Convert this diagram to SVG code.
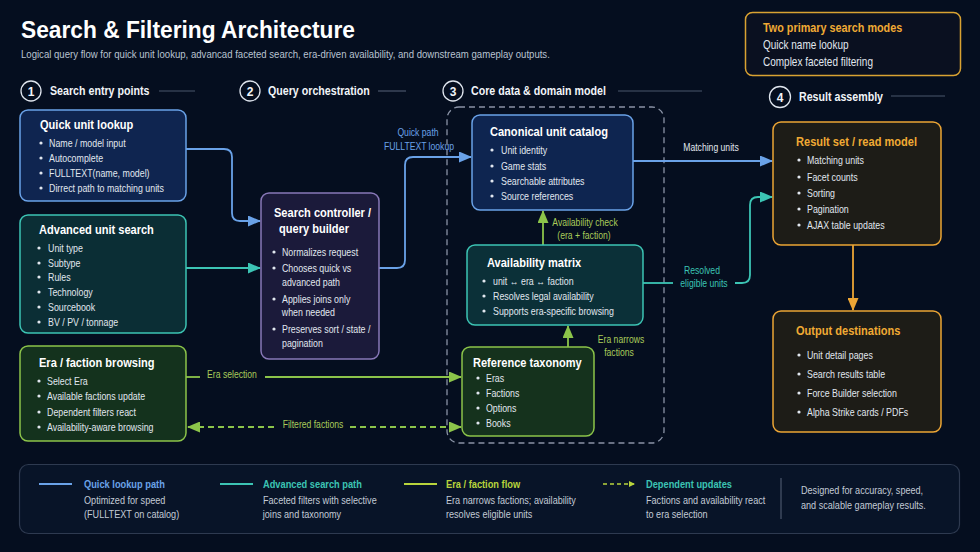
<svg xmlns="http://www.w3.org/2000/svg" width="980" height="552" viewBox="0 0 980 552">
<defs>
<style>
text{font-family:"Liberation Sans Narrow","Liberation Sans",Arial,sans-serif;transform:scaleX(.82);transform-box:fill-box;transform-origin:0 0}
.ttl{font-family:"Liberation Sans",Arial,sans-serif;font-size:24px;font-weight:bold;fill:#ffffff;transform:none}
.sub{font-size:11.7px;fill:#b9c3d1}
.sec{font-size:13px;font-weight:bold;fill:#f1f4f8}
.num{font-family:"Liberation Sans",Arial,sans-serif;font-size:12px;font-weight:bold;fill:#f1f4f8;text-anchor:middle;transform:none}
.ring{fill:none;stroke:#dfe5ee;stroke-width:1.3}
.hl{stroke:#4a566c;stroke-width:1.2}
.h{font-size:13.5px;font-weight:bold;fill:#ffffff}
.ho{font-size:13.5px;font-weight:bold;fill:#f0aa34}
.b{font-size:10.8px;fill:#e1e7ef}
.m{font-size:12.2px;fill:#e1e7ef}
.dot{fill:#e1e7ef}
.lbl{font-size:10.5px;text-anchor:middle;transform-origin:50% 0}
.node{stroke-width:1.5}
.c{fill:none;stroke-width:1.8}
.blue{stroke:#6aa2e8}
.teal{stroke:#3cc4b4}
.green{stroke:#8cc44a}
.orange{stroke:#eca535}
.lt{font-size:11.3px;font-weight:bold}
.ls{font-size:11.1px;fill:#c3cbd6}
</style>
<marker id="aBlue" markerUnits="userSpaceOnUse" markerWidth="13" markerHeight="11" refX="12" refY="5.5" orient="auto-start-reverse"><path d="M0,0 L13,5.5 L0,11 z" fill="#6aa2e8"/></marker>
<marker id="aTeal" markerUnits="userSpaceOnUse" markerWidth="13" markerHeight="11" refX="12" refY="5.5" orient="auto-start-reverse"><path d="M0,0 L13,5.5 L0,11 z" fill="#3cc4b4"/></marker>
<marker id="aGreen" markerUnits="userSpaceOnUse" markerWidth="13" markerHeight="11" refX="12" refY="5.5" orient="auto-start-reverse"><path d="M0,0 L13,5.5 L0,11 z" fill="#8cc44a"/></marker>
<marker id="aOrange" markerUnits="userSpaceOnUse" markerWidth="13" markerHeight="11" refX="12" refY="5.5" orient="auto-start-reverse"><path d="M0,0 L13,5.5 L0,11 z" fill="#eca535"/></marker>
<marker id="aSmall" markerUnits="userSpaceOnUse" markerWidth="6" markerHeight="6" refX="5" refY="3" orient="auto"><path d="M0,0 L6,3 L0,6 z" fill="#b8d43c"/></marker>
</defs>

<rect x="0" y="0" width="980" height="552" fill="#050e1f"/>

<g id="header">
<text class="ttl" x="21" y="38" textLength="334" lengthAdjust="spacingAndGlyphs">Search &amp; Filtering Architecture</text>
<text class="sub" x="21" y="58">Logical query flow for quick unit lookup, advancad faceted search, era-driven availability, and downstream gameplay outputs.</text>
</g>

<g id="modes">
<rect x="745.5" y="12.5" width="215" height="63" rx="7" fill="#0a1020" stroke="#d9a232" stroke-width="1.5"/>
<text x="763" y="32" style="font-size:13.2px;font-weight:bold;fill:#f0aa34">Two primary search modes</text>
<text class="m" x="763" y="49">Quick name lookup</text>
<text class="m" x="763" y="66">Complex faceted filtering</text>
</g>

<g id="sections">
<circle class="ring" cx="31" cy="91" r="10"/><text class="num" x="31" y="95.5">1</text>
<text class="sec" x="50" y="95.5">Search entry points</text>
<line class="hl" x1="159" y1="91" x2="195" y2="91"/>
<circle class="ring" cx="250" cy="91" r="10"/><text class="num" x="250" y="95.5">2</text>
<text class="sec" x="268" y="95.5">Query orchestration</text>
<line class="hl" x1="378" y1="91" x2="406" y2="91"/>
<circle class="ring" cx="453" cy="91" r="10"/><text class="num" x="453" y="95.5">3</text>
<text class="sec" x="471" y="95.5">Core data &amp; domain model</text>
<line class="hl" x1="618" y1="91" x2="702" y2="91"/>
<circle class="ring" cx="780" cy="97" r="10.5"/><text class="num" x="780" y="101.5">4</text>
<text class="sec" x="799" y="101.5">Result assembly</text>
<line class="hl" x1="891" y1="96" x2="945" y2="96"/>
</g>

<rect x="447" y="107" width="217" height="336" rx="12" fill="none" stroke="#8a93a6" stroke-width="1.3" stroke-dasharray="6 4"/>

<g id="connectors">
<path class="c blue" d="M186,149 H224 Q232,149 232,157 V213 Q232,221 240,221 H260" marker-end="url(#aBlue)"/>
<path class="c teal" d="M186,268 H260" marker-end="url(#aTeal)"/>
<path class="c blue" d="M379,268 H397 Q405,268 405,260 V165 Q405,157 413,157 H471" marker-end="url(#aBlue)"/>
<text class="lbl" x="418" y="136" fill="#6aa2e8">Quick path</text>
<text class="lbl" x="419" y="150" fill="#6aa2e8">FULLTEXT lookup</text>
<path class="c blue" d="M633,161 H772" marker-end="url(#aBlue)"/>
<text class="lbl" x="711" y="151" fill="#e1e7ef">Matching units</text>
<path class="c green" d="M543,245 V211" marker-end="url(#aGreen)"/>
<text class="lbl" x="585" y="226" fill="#a9cc5a">Availability check</text>
<text class="lbl" x="584" y="239" fill="#a9cc5a">(era + faction)</text>
<path class="c teal" d="M643,283 H673"/>
<path class="c teal" d="M735,283 H742 Q750,283 750,275 V205 Q750,197 758,197 H772" marker-end="url(#aTeal)"/>
<text class="lbl" x="702" y="274" fill="#3cc4b4">Resolved</text>
<text class="lbl" x="704" y="287" fill="#3cc4b4">eligible units</text>
<path class="c green" d="M568,347 V326" marker-end="url(#aGreen)"/>
<text class="lbl" x="621" y="343" fill="#a9cc5a">Era narrows</text>
<text class="lbl" x="619" y="356" fill="#a9cc5a">factions</text>
<path class="c green" d="M186,377 H200"/>
<path class="c green" d="M265,377 H461" marker-end="url(#aGreen)"/>
<text class="lbl" x="232" y="378" fill="#a9cc5a">Era selection</text>
<path class="c green" d="M188,427 H276" stroke-dasharray="6 4" marker-start="url(#aGreen)"/>
<path class="c green" d="M350,427 H461" stroke-dasharray="6 4" marker-end="url(#aGreen)"/>
<text class="lbl" x="313" y="428" fill="#a9cc5a">Filtered factions</text>
<path class="c orange" d="M853,245 V310" marker-end="url(#aOrange)"/>
</g>

<g id="quick">
<rect class="node" x="20" y="110" width="166" height="91" rx="8" fill="#0f2550" stroke="#6aa2e8"/>
<text class="h" x="40" y="129">Quick unit lookup</text>
<circle class="dot" cx="41" cy="143" r="1.6"/><text class="b" x="49" y="147">Name / model input</text>
<circle class="dot" cx="41" cy="158" r="1.6"/><text class="b" x="49" y="162">Autocomplete</text>
<circle class="dot" cx="41" cy="173" r="1.6"/><text class="b" x="49" y="177">FULLTEXT(name, model)</text>
<circle class="dot" cx="41" cy="188" r="1.6"/><text class="b" x="49" y="192">Dirrect path to matching units</text>
</g>

<g id="advanced">
<rect class="node" x="20" y="215" width="166" height="118" rx="8" fill="#0b2e35" stroke="#3cc4b4"/>
<text class="h" x="39" y="234">Advanced unit search</text>
<circle class="dot" cx="39" cy="248" r="1.6"/><text class="b" x="48" y="252">Unit type</text>
<circle class="dot" cx="39" cy="263" r="1.6"/><text class="b" x="48" y="267">Subtype</text>
<circle class="dot" cx="39" cy="277" r="1.6"/><text class="b" x="48" y="281">Rules</text>
<circle class="dot" cx="39" cy="292" r="1.6"/><text class="b" x="48" y="296">Technology</text>
<circle class="dot" cx="39" cy="307" r="1.6"/><text class="b" x="48" y="311">Sourcebook</text>
<circle class="dot" cx="39" cy="322" r="1.6"/><text class="b" x="48" y="326">BV / PV / tonnage</text>
</g>

<g id="era">
<rect class="node" x="20" y="346" width="166" height="95" rx="8" fill="#14321d" stroke="#8cc44a"/>
<text class="h" x="39" y="367">Era / faction browsing</text>
<circle class="dot" cx="39" cy="381" r="1.6"/><text class="b" x="47" y="385">Select Era</text>
<circle class="dot" cx="39" cy="396" r="1.6"/><text class="b" x="47" y="400">Available factions update</text>
<circle class="dot" cx="39" cy="412" r="1.6"/><text class="b" x="47" y="416">Dependent filters react</text>
<circle class="dot" cx="39" cy="427" r="1.6"/><text class="b" x="47" y="431">Availability-aware browsing</text>
</g>

<g id="controller">
<rect class="node" x="261" y="193" width="118" height="166" rx="8" fill="#1b1a3a" stroke="#8878b8"/>
<text class="h" x="274" y="217">Search controller /</text>
<text class="h" x="279" y="233">query builder</text>
<circle class="dot" cx="274" cy="252" r="1.6"/><text class="b" x="282" y="256">Normalizes request</text>
<circle class="dot" cx="274" cy="268" r="1.6"/><text class="b" x="282" y="272">Chooses quick vs</text>
<text class="b" x="282" y="286">advanced path</text>
<circle class="dot" cx="274" cy="299" r="1.6"/><text class="b" x="282" y="303">Applies joins only</text>
<text class="b" x="282" y="316">when needed</text>
<circle class="dot" cx="274" cy="329" r="1.6"/><text class="b" x="282" y="333">Preserves sort / state /</text>
<text class="b" x="282" y="347">pagination</text>
</g>

<g id="catalog">
<rect class="node" x="472" y="115" width="161" height="95" rx="8" fill="#0e2550" stroke="#6aa2e8"/>
<text class="h" x="490" y="136">Canonical unit catalog</text>
<circle class="dot" cx="492" cy="150" r="1.6"/><text class="b" x="501" y="154">Unit identity</text>
<circle class="dot" cx="492" cy="166" r="1.6"/><text class="b" x="501" y="170">Game stats</text>
<circle class="dot" cx="492" cy="181" r="1.6"/><text class="b" x="501" y="185">Searchable attributes</text>
<circle class="dot" cx="492" cy="196" r="1.6"/><text class="b" x="501" y="200">Source references</text>
</g>

<g id="availability">
<rect class="node" x="467" y="245" width="176" height="80" rx="8" fill="#0b3038" stroke="#3cc4b4"/>
<text class="h" x="487" y="267">Availability matrix</text>
<circle class="dot" cx="484" cy="281" r="1.6"/><text class="b" x="493" y="285">unit ↔ era ↔ faction</text>
<circle class="dot" cx="484" cy="296" r="1.6"/><text class="b" x="493" y="300">Resolves legal availability</text>
<circle class="dot" cx="484" cy="311" r="1.6"/><text class="b" x="493" y="315">Supports era-specific browsing</text>
</g>

<g id="taxonomy">
<rect class="node" x="462" y="347" width="132" height="89" rx="8" fill="#15321d" stroke="#8cc44a"/>
<text class="h" x="473" y="367">Reference taxonomy</text>
<circle class="dot" cx="478" cy="378" r="1.6"/><text class="b" x="486" y="382">Eras</text>
<circle class="dot" cx="478" cy="393" r="1.6"/><text class="b" x="486" y="397">Factions</text>
<circle class="dot" cx="478" cy="408" r="1.6"/><text class="b" x="486" y="412">Options</text>
<circle class="dot" cx="478" cy="423" r="1.6"/><text class="b" x="486" y="427">Books</text>
</g>

<g id="result">
<rect class="node" x="773" y="122" width="168" height="123" rx="8" fill="#1d1c17" stroke="#eca535"/>
<text class="ho" x="796" y="146">Result set / read model</text>
<circle class="dot" cx="799" cy="160" r="1.6"/><text class="b" x="807" y="164">Matching units</text>
<circle class="dot" cx="799" cy="177" r="1.6"/><text class="b" x="807" y="181">Facet counts</text>
<circle class="dot" cx="799" cy="193" r="1.6"/><text class="b" x="807" y="197">Sorting</text>
<circle class="dot" cx="799" cy="209" r="1.6"/><text class="b" x="807" y="213">Pagination</text>
<circle class="dot" cx="799" cy="225" r="1.6"/><text class="b" x="807" y="229">AJAX table updates</text>
</g>

<g id="output">
<rect class="node" x="773" y="311" width="168" height="121" rx="8" fill="#1d1c17" stroke="#eca535"/>
<text class="ho" x="796" y="335">Output destinations</text>
<circle class="dot" cx="799" cy="355" r="1.6"/><text class="b" x="807" y="359">Unit detail pages</text>
<circle class="dot" cx="799" cy="374" r="1.6"/><text class="b" x="807" y="378">Search results table</text>
<circle class="dot" cx="799" cy="393" r="1.6"/><text class="b" x="807" y="397">Force Builder selection</text>
<circle class="dot" cx="799" cy="412" r="1.6"/><text class="b" x="807" y="416">Alpha Strike cards / PDFs</text>
</g>

<g id="legend">
<rect x="19.5" y="464.5" width="940" height="69" rx="9" fill="#081428" stroke="#2e3a50" stroke-width="1.2"/>
<line x1="39" y1="484" x2="72" y2="484" stroke="#6aa2e8" stroke-width="2"/>
<text class="lt" x="84" y="488" fill="#6aa2e8">Quick lookup path</text>
<text class="ls" x="84" y="504">Optimized for speed</text>
<text class="ls" x="84" y="518">(FULLTEXT on catalog)</text>
<line x1="220" y1="484" x2="253" y2="484" stroke="#3cc4b4" stroke-width="2"/>
<text class="lt" x="263" y="488" fill="#3cc4b4">Advanced search path</text>
<text class="ls" x="263" y="504">Faceted filters with selective</text>
<text class="ls" x="263" y="518">joins and taxonomy</text>
<line x1="404" y1="484" x2="437" y2="484" stroke="#b8d43c" stroke-width="2"/>
<text class="lt" x="446" y="488" fill="#b8d43c">Era / faction flow</text>
<text class="ls" x="446" y="504">Era narrows factions; availability</text>
<text class="ls" x="446" y="518">resolves eligible units</text>
<line x1="603" y1="484" x2="634" y2="484" stroke="#b8d43c" stroke-width="1.6" stroke-dasharray="4 3" marker-end="url(#aSmall)"/>
<text class="lt" x="646" y="488" fill="#3cc4b4">Dependent updates</text>
<text class="ls" x="646" y="504">Factions and availability react</text>
<text class="ls" x="646" y="518">to era selection</text>
<line x1="781" y1="478" x2="781" y2="519" stroke="#4a566c" stroke-width="1.2"/>
<text class="ls" x="801" y="494">Designed for accuracy, speed,</text>
<text class="ls" x="801" y="509">and scalable gameplay results.</text>
</g>
</svg>
